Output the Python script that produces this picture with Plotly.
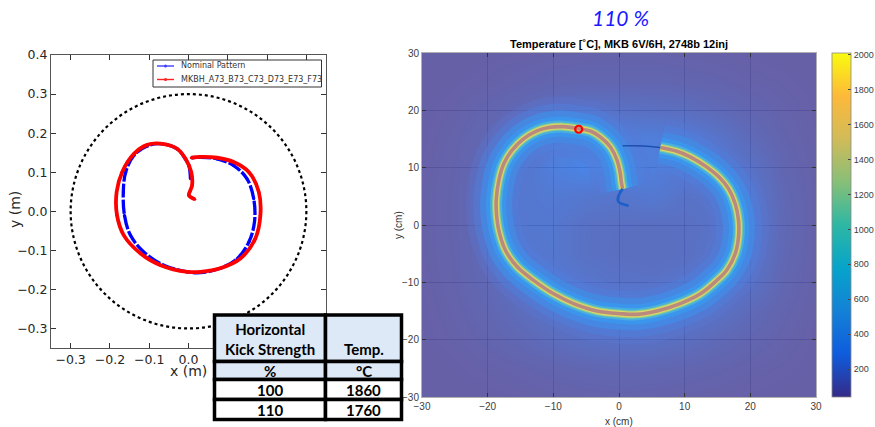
import plotly.graph_objects as go

W, H = 875, 427

# ---------------- Left panel : beam sweep pattern (m) ----------------
nominal_x = [0.005, 0.001, -0.008, -0.029, -0.071, -0.105, -0.139, -0.160, -0.166, -0.163, -0.148,
             -0.114, -0.063, -0.003, 0.031, 0.081, 0.124, 0.154, 0.168, 0.166, 0.149, 0.115,
             0.073, 0.031, 0.009]
nominal_y = [0.083, 0.117, 0.134, 0.160, 0.173, 0.167, 0.143, 0.100, 0.049, -0.010, -0.061,
             -0.104, -0.138, -0.155, -0.157, -0.146, -0.121, -0.078, -0.027, 0.032, 0.083, 0.117,
             0.134, 0.138, 0.137]

mkbh_x = [0.016, 0.001, 0.005, 0.009, 0.007, -0.008, -0.029, -0.071, -0.105, -0.139, -0.169,
          -0.183, -0.182, -0.165, -0.122, -0.071, -0.003, 0.031, 0.081, 0.132, 0.170, 0.183,
          0.179, 0.154, 0.115, 0.073, 0.031, 0.007]
mkbh_y = [0.031, 0.041, 0.054, 0.066, 0.100, 0.135, 0.160, 0.173, 0.170, 0.147, 0.100,
          0.049, -0.010, -0.061, -0.108, -0.138, -0.155, -0.155, -0.146, -0.121, -0.070, -0.010,
          0.049, 0.100, 0.126, 0.137, 0.139, 0.137]

series_names = ["Nominal Pattern", "MKBH_A73_B73_C73_D73_E73_F73"]
boundary_radius = 0.3

# ---------------- Right panel : temperature map (cm) ----------------
grid_x = [-30, -25, -20, -15, -10, -5, 0, 5, 10, 15, 20, 25, 30]
grid_y = [-30, -25, -20, -15, -10, -5, 0, 5, 10, 15, 20, 25, 30]
temp_grid = [  # rows from y=-30 (bottom) to y=30 (top)
    [45, 45, 48, 52, 58, 62, 65, 62, 58, 55, 50, 47, 45],
    [45, 50, 58, 68, 80, 92, 96, 94, 85, 74, 62, 55, 48],
    [48, 58, 76, 100, 130, 155, 165, 160, 140, 110, 85, 64, 50],
    [50, 64, 90, 130, 175, 210, 225, 225, 200, 165, 115, 75, 52],
    [52, 70, 105, 165, 210, 190, 170, 165, 180, 210, 165, 90, 55],
    [55, 72, 112, 190, 200, 160, 145, 140, 150, 185, 200, 100, 57],
    [55, 74, 118, 200, 200, 160, 150, 145, 150, 170, 210, 105, 57],
    [55, 74, 118, 200, 220, 200, 185, 210, 170, 180, 200, 100, 57],
    [52, 72, 112, 185, 250, 290, 280, 250, 220, 210, 165, 88, 55],
    [50, 66, 100, 160, 230, 260, 250, 250, 230, 180, 118, 74, 52],
    [48, 58, 80, 105, 140, 165, 160, 150, 138, 112, 85, 64, 50],
    [45, 50, 58, 70, 82, 88, 88, 88, 82, 74, 62, 55, 48],
    [45, 45, 48, 52, 58, 62, 62, 62, 58, 55, 50, 47, 45],
]

path_x = [1.47, -0.05, -0.2, 0.1, 0.56, 0.35, 0.2, -0.3, -1.3, -2.84, -4.36, -6.14, -8.4, -10.7,
          -12.5, -14.5, -16.3, -17.55, -18.3, -18.7, -18.66, -18.3, -17.3, -15.5, -13.0, -9.94,
          -6.9, -3.35, 0.2, 2.74, 5.78, 9.33, 12.4, 14.9, 16.4, 17.7, 18.2, 18.2, 17.7, 16.7,
          15.2, 13.4, 10.85, 8.8, 6.3, 3.75, 1.7, 0.56]
path_y = [3.37, 4.0, 4.6, 5.5, 6.3, 7.5, 8.95, 11.3, 13.6, 15.35, 16.4, 16.8, 17.15, 17.0,
          16.4, 15.06, 13.0, 10.7, 7.8, 4.3, 2.0, -0.93, -4.4, -7.3, -9.65, -12.0,
          -13.7, -15.0, -15.47, -15.58, -15.0, -13.7, -12.0, -9.65, -7.9, -5.0, -2.1, 0.8, 3.7, 6.3,
          8.4, 10.1, 11.9, 12.85, 13.5, 13.8, 13.84, 13.84]
hot_start, hot_end = 4, 44
peak_x = [-6.14]
peak_y = [16.7]

cbar_range = [40, 2010]
cbar_ticks = [200, 400, 600, 800, 1000, 1200, 1400, 1600, 1800, 2000]

# ---------------- Table ----------------
table_header = ["Horizontal<br>Kick Strength", "Temp."]
table_units = ["%", "°C"]
kick_strength = [100, 110]
peak_temp = [1860, 1760]

parula = [[0.0, "#352a87"], [0.125, "#0f5cdd"], [0.25, "#1481d6"], [0.375, "#06a4ca"],
          [0.5, "#2eb7a4"], [0.625, "#87bf77"], [0.75, "#d1bb59"], [0.875, "#fdb93a"],
          [1.0, "#f9fb0e"]]


def px(x):
    return x / W


def py(y):
    return 1 - y / H


fig = go.Figure()

# ---- left traces
fig.add_trace(go.Scatter(
    x=nominal_x, y=nominal_y, name=series_names[0], mode="lines+markers",
    line=dict(color="#0000ff", width=3.3, shape="spline", dash="14px,2px"),
    marker=dict(size=3, color="#0000ff"), xaxis="x", yaxis="y", hoverinfo="skip"))
fig.add_trace(go.Scatter(
    x=mkbh_x, y=mkbh_y, name=series_names[1], mode="lines+markers",
    line=dict(color="#ff0000", width=3.8, shape="spline"),
    marker=dict(size=3, color="#ff0000"), xaxis="x", yaxis="y", hoverinfo="skip"))

# ---- right: background field
fig.add_trace(go.Heatmap(
    x=grid_x, y=grid_y, z=temp_grid, colorscale=parula, zmin=cbar_range[0], zmax=cbar_range[1],
    zsmooth="best", opacity=0.75, showscale=False, xaxis="x2", yaxis="y2", hoverinfo="skip"))

hot = slice(hot_start, hot_end + 1)
halo_layers = [
    (60, "rgba(90,118,212,0.30)"),
    (46, "rgba(78,128,222,0.45)"),
    (32, "rgba(66,140,230,0.75)"),
    (20, "rgba(60,150,236,0.95)"),
    (12, "#48b0de"),
    (8, "#86cc96"),
    (6, "#dcd667"),
    (3.6, "#b98a7d"),
]
for w, c in halo_layers:
    fig.add_trace(go.Scatter(x=path_x[hot], y=path_y[hot], mode="lines",
                             line=dict(color=c, width=w, shape="spline"),
                             xaxis="x2", yaxis="y2", showlegend=False, hoverinfo="skip"))
fig.add_trace(go.Scatter(x=path_x[:hot_start + 1], y=path_y[:hot_start + 1], mode="lines",
                         line=dict(color="#1d5fc9", width=2.6, shape="spline"),
                         xaxis="x2", yaxis="y2", showlegend=False, hoverinfo="skip"))
fig.add_trace(go.Scatter(x=path_x[hot_end:], y=path_y[hot_end:], mode="lines",
                         line=dict(color="#1f4fb0", width=1.5, shape="spline"),
                         xaxis="x2", yaxis="y2", showlegend=False, hoverinfo="skip"))
fig.add_trace(go.Scatter(x=peak_x, y=peak_y, mode="markers",
                         marker=dict(symbol="circle-open", size=7, color="#ff0000",
                                     line=dict(width=2.2, color="#ff0000")),
                         xaxis="x2", yaxis="y2", showlegend=False, hoverinfo="skip"))

# colorbar carrier
fig.add_trace(go.Scatter(
    x=[None], y=[None], mode="markers", xaxis="x2", yaxis="y2", showlegend=False,
    marker=dict(color=[cbar_range[0]], cmin=cbar_range[0], cmax=cbar_range[1], colorscale=parula,
                showscale=True,
                colorbar=dict(x=px(831.5), xanchor="left", xpad=0, thickness=19,
                              y=py(53), yanchor="top", ypad=0, len=(397 - 53) / H,
                              lenmode="fraction", outlinecolor="#8a8a8a", outlinewidth=0.8,
                              tickvals=cbar_ticks, ticks="inside", ticklen=3,
                              tickcolor="#444", tickfont=dict(family="Liberation Sans", size=9,
                                                              color="#404040")))))

left_tick = dict(family="DejaVu Sans", size=12.5, color="#262626")
right_tick = dict(family="Liberation Sans", size=10, color="#404040")

fig.update_layout(
    width=W, height=H, margin=dict(l=0, r=0, t=0, b=0, autoexpand=False),
    paper_bgcolor="white", plot_bgcolor="white", showlegend=False,
    xaxis=dict(domain=[px(51), px(326)], range=[-0.35, 0.35], dtick=0.1, tick0=0,
               tickformat=".1f", ticks="inside", ticklen=5, tickcolor="#333", mirror="allticks",
               showline=True, linecolor="#555", linewidth=1, showgrid=False, zeroline=False,
               tickfont=left_tick, anchor="y"),
    yaxis=dict(domain=[py(348), py(55)], range=[-0.35, 0.4], dtick=0.1, tick0=0,
               tickformat=".1f", ticks="inside", ticklen=5, tickcolor="#333", mirror="allticks",
               showline=True, linecolor="#555", linewidth=1, showgrid=False, zeroline=False,
               tickfont=left_tick, anchor="x"),
    xaxis2=dict(domain=[px(422), px(816)], range=[-30, 30], dtick=10, ticks="inside", ticklen=4,
                tickcolor="#333", mirror="allticks", showline=True, linecolor="#b0b0b0",
                linewidth=1, showgrid=True, gridcolor="rgba(0,0,30,0.22)", gridwidth=1,
                zeroline=False, tickfont=right_tick, anchor="y2", layer="above traces"),
    yaxis2=dict(domain=[py(397), py(53)], range=[-30, 30], dtick=10, ticks="inside", ticklen=4,
                tickcolor="#333", mirror="allticks", showline=True, linecolor="#b0b0b0",
                linewidth=1, showgrid=True, gridcolor="rgba(0,0,30,0.22)", gridwidth=1,
                zeroline=False, tickfont=right_tick, anchor="x2", layer="above traces"),
)

shapes = [dict(type="circle", xref="x", yref="y", x0=-boundary_radius, x1=boundary_radius,
               y0=-boundary_radius, y1=boundary_radius,
               line=dict(color="black", width=2.2, dash="dot"))]

# legend box (drawn manually to match the compact matplotlib legend)
leg_colors = ["#4040ff", "#ff2020"]
leg_rows = [66, 79.5]
shapes.append(dict(type="rect", xref="paper", yref="paper", x0=px(153), x1=px(321.5),
                   y0=py(87), y1=py(60), fillcolor="white", line=dict(color="#333", width=1)))
for i in range(2):
    shapes.append(dict(type="line", xref="paper", yref="paper", x0=px(157), x1=px(174),
                       y0=py(leg_rows[i]), y1=py(leg_rows[i]),
                       line=dict(color=leg_colors[i], width=1.4)))
    shapes.append(dict(type="circle", xref="paper", yref="paper", x0=px(164), x1=px(167),
                       y0=py(leg_rows[i] + 1.5), y1=py(leg_rows[i] - 1.5),
                       fillcolor=leg_colors[i], line=dict(color=leg_colors[i], width=0)))

# table cells
col_edges = [214.5, 325.5, 401.5]
row_edges = [315.0, 361.5, 379.5, 399.5, 419.5]
row_fill = ["#dde9f6", "#dde9f6", "white", "white"]
for r in range(4):
    for c in range(2):
        shapes.append(dict(type="rect", xref="paper", yref="paper",
                           x0=px(col_edges[c]), x1=px(col_edges[c + 1]),
                           y0=py(row_edges[r + 1]), y1=py(row_edges[r]),
                           fillcolor=row_fill[r], line=dict(color="black", width=3.5)))
fig.update_layout(shapes=shapes)

tfont = dict(family="Lato", size=15, color="black")
ann = []
col_centers = [(col_edges[0] + col_edges[1]) / 2, (col_edges[1] + col_edges[2]) / 2]
ann.append(dict(text="<b>" + table_header[0] + "</b>", x=px(col_centers[0]), y=py(338.5)))
ann.append(dict(text="<b>" + table_header[1] + "</b>", x=px(col_centers[1]), y=py(349)))
for c in range(2):
    ann.append(dict(text="<b>" + table_units[c] + "</b>", x=px(col_centers[c]), y=py(370.5)))
row_mid = [389.5, 409.5]
for r in range(2):
    ann.append(dict(text="<b>%d</b>" % kick_strength[r], x=px(col_centers[0]), y=py(row_mid[r])))
    ann.append(dict(text="<b>%d</b>" % peak_temp[r], x=px(col_centers[1]), y=py(row_mid[r])))
for a in ann:
    a.update(xref="paper", yref="paper", showarrow=False, font=tfont, xanchor="center",
             yanchor="middle")

others = [
    dict(text="<i>110 %</i>", x=px(620), y=py(17), xanchor="center",
         font=dict(family="Lato", size=21, color="#1a1aff")),
    dict(text="<b>Temperature [˚C], MKB 6V/6H, 2748b 12inj</b>", x=px(619), y=py(44),
         xanchor="center", font=dict(family="Liberation Sans", size=11, color="black")),
    dict(text="y (m)", x=px(15), y=py(210), textangle=-90, xanchor="center",
         font=dict(family="DejaVu Sans", size=14, color="#262626")),
    dict(text="x (m)", x=px(188), y=py(371), xanchor="center",
         font=dict(family="DejaVu Sans", size=14, color="#262626")),
    dict(text="y (cm)", x=px(398), y=py(225), textangle=-90, xanchor="center",
         font=dict(family="Liberation Sans", size=10, color="#333")),
    dict(text="x (cm)", x=px(619), y=py(421), xanchor="center",
         font=dict(family="Liberation Sans", size=10, color="#333")),
]
for i in range(2):
    others.append(dict(text=series_names[i], x=px(179), y=py(leg_rows[i]), xanchor="left",
                       font=dict(family="DejaVu Sans", size=8, color="#333")))
for a in others:
    a.update(xref="paper", yref="paper", showarrow=False, yanchor="middle")
fig.update_layout(annotations=ann + others)

# remove the default 8px page margin so the 875x427 figure fills the window exactly
fig.write_html("out.html", config={"displayModeBar": False},
               post_script="document.body.style.margin='0px';"
                           "document.body.style.overflow='hidden';")
